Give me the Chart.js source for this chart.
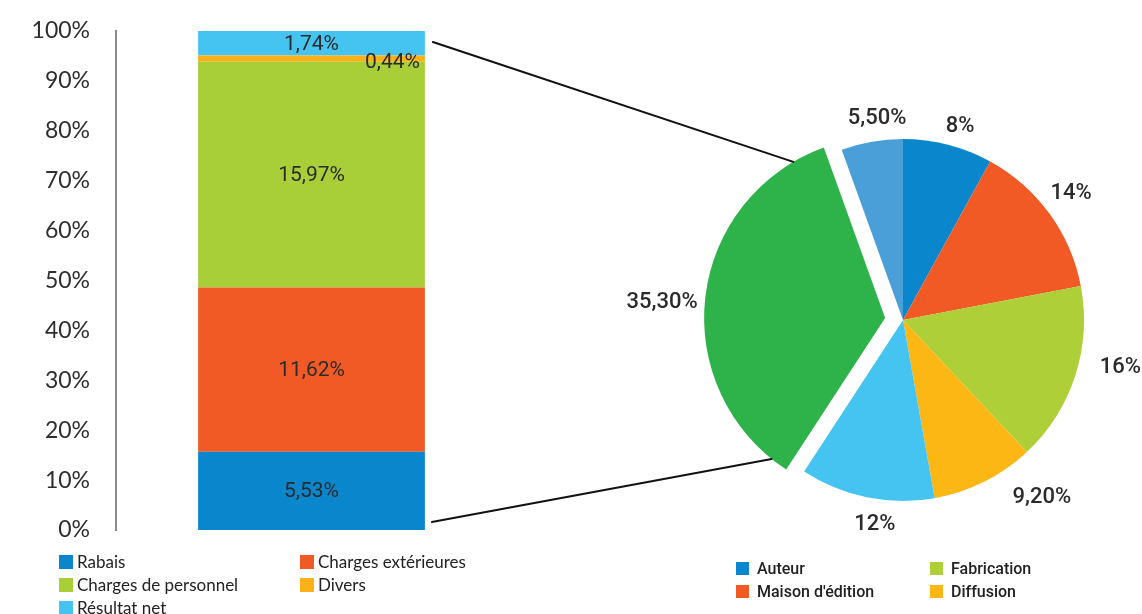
<!DOCTYPE html>
<html><head><meta charset="utf-8">
<script src="https://cdn.jsdelivr.net/npm/chart.js@4.4.0/dist/chart.umd.min.js"></script>
<style>
html,body{margin:0;padding:0;background:#fff;}
#wrap{position:relative;width:1142px;height:614px;overflow:hidden;background:#fff;}
canvas{position:absolute;}
#barC{left:0;top:0;}
#pieC{left:600px;top:90px;}
#lineC{left:0;top:0;pointer-events:none;}
.legend{position:absolute;display:grid;}
.item{display:flex;align-items:center;white-space:nowrap;}
.sw{width:14px;height:14px;flex:none;}
#barLeg{left:59px;top:550px;grid-template-columns:241px auto;grid-auto-rows:23px;font:17px Lato;color:#222;}
#barLeg .sw{margin-right:4px;}
#pieLeg{left:736px;top:557px;grid-template-rows:23px 23px;grid-auto-flow:column;grid-auto-columns:194px;font:500 16px Roboto;color:#222;}
#pieLeg .sw{width:13px;height:13px;margin-right:8px;}
</style></head>
<body>
<div id="wrap">
  <canvas id="barC" width="520" height="560"></canvas>
  <canvas id="pieC" width="540" height="460"></canvas>
  <canvas id="lineC" width="1142" height="614"></canvas>
  <div id="barLeg" class="legend"></div>
  <div id="pieLeg" class="legend"></div>
</div>
<script>
// ---- data ----
const barCategories = ['Rabais', 'Charges extérieures', 'Charges de personnel', 'Divers', 'Résultat net'];
const barValues = [5.53, 11.62, 15.97, 0.44, 1.74];
const barColors = ['#0a86cc', '#f15a24', '#a9cf38', '#fbb117', '#45c4f1'];

const yTickValues = [0, 10, 20, 30, 40, 50, 60, 70, 80, 90, 100];

const pieCategories = ['Auteur', "Maison d'édition", 'Fabrication', 'Diffusion', '', '', ''];
const pieValues = [8, 14, 16, 9.2, 12, 35.3, 5.5];
const pieColors = ['#0a86cc', '#f15a24', '#aecf38', '#fdb714', '#45c4f1', '#2db34a', '#4b9fd8'];

// ---- helpers ----
const fmt = v => (Number.isInteger(v) ? String(v) : v.toFixed(2).replace('.', ',')) + '%';
const barTotal = barValues.reduce((a, b) => a + b, 0);

const barLabelPlugin = {
  id: 'barLabels',
  afterDatasetsDraw(chart) {
    const ctx = chart.ctx;
    ctx.save();
    ctx.font = '21px Roboto';
    ctx.fillStyle = '#2b2b2b';
    ctx.textBaseline = 'middle';
    chart.data.datasets.forEach((ds, i) => {
      const el = chart.getDatasetMeta(i).data[0];
      const h = Math.abs(el.base - el.y);
      const cy = (el.y + el.base) / 2;
      const txt = fmt(ds.raw);
      if (h < 14) {
        ctx.textAlign = 'right';
        ctx.fillText(txt, el.x + el.width / 2 - 5, cy + 4);
      } else {
        ctx.textAlign = 'center';
        ctx.fillText(txt, el.x, cy + 1);
      }
    });
    ctx.restore();
  }
};

const explodePlugin = {
  id: 'explode',
  beforeDatasetDraw(chart, args, opts) {
    const ctx = chart.ctx;
    args.meta.data.forEach((arc, i) => {
      const d = i === opts.index ? opts.distance : 0;
      const mid = (arc.startAngle + arc.endAngle) / 2;
      ctx.save();
      ctx.translate(Math.cos(mid) * d, Math.sin(mid) * d);
      arc.draw(ctx);
      ctx.restore();
    });
    return false;
  }
};

const pieLabelPlugin = {
  id: 'pieLabels',
  afterDatasetsDraw(chart, args, opts) {
    const ctx = chart.ctx;
    const ex = chart.options.plugins.explode;
    ctx.save();
    ctx.font = '500 22px Roboto';
    ctx.fillStyle = '#2b2b2b';
    ctx.textAlign = 'center';
    ctx.textBaseline = 'middle';
    const meta = chart.getDatasetMeta(0);
    meta.data.forEach((arc, i) => {
      const v = chart.data.datasets[0].data[i];
      const txt = fmt(v);
      const mid = (arc.startAngle + arc.endAngle) / 2;
      const cx = Math.cos(mid), cy = Math.sin(mid);
      const d = (i === ex.index ? ex.distance : 0);
      const w = ctx.measureText(txt).width, h = 15;
      const r = arc.outerRadius + d + opts.pad;
      const n = opts.nudge[i] || [0, 0];
      const x = arc.x + cx * r + cx * w / 2 + n[0];
      const y = arc.y + cy * r + cy * h / 2 + n[1];
      ctx.fillText(txt, x, y);
    });
    ctx.restore();
  }
};

// ---- bar chart ----
const barChart = new Chart(document.getElementById('barC'), {
  type: 'bar',
  data: {
    labels: [''],
    datasets: barCategories.map((c, i) => ({
      label: c,
      data: [barValues[i] / barTotal * 100],
      raw: barValues[i],
      backgroundColor: barColors[i],
      borderWidth: 0,
      barPercentage: 1,
      categoryPercentage: 0.58
    }))
  },
  options: {
    responsive: false,
    animation: false,
    layout: { padding: { top: 31, right: 13, bottom: 30, left: 0 } },
    plugins: { legend: { display: false }, tooltip: { enabled: false } },
    scales: {
      x: { stacked: true, display: false },
      y: {
        stacked: true, min: 0, max: 100,
        afterBuildTicks: s => { s.ticks = yTickValues.map(v => ({ value: v })); },
        grid: { display: false, drawTicks: true, tickLength: 26 },
        border: { display: true, color: '#8c8c8c', width: 2 },
        ticks: { padding: 0, color: '#2e2e2e', font: { family: 'Lato', size: 23 }, callback: v => v + '%' },
        afterFit: s => { s.width = 116; }
      }
    }
  },
  plugins: [barLabelPlugin]
});

// ---- pie chart ----
const pieChart = new Chart(document.getElementById('pieC'), {
  type: 'pie',
  data: {
    labels: pieCategories,
    datasets: [{ data: pieValues, backgroundColor: pieColors, borderWidth: 0 }]
  },
  options: {
    responsive: false,
    animation: false,
    layout: { padding: { left: 122, top: 49, right: 56, bottom: 49 } },
    plugins: {
      legend: { display: false },
      tooltip: { enabled: false },
      explode: { index: 5, distance: 18 },
      pieLabels: { pad: 10, nudge: [[6, -1], [-3, -10], [16, -14], [40, 0], [14, 10], [2, 8], [12, -6]] }
    }
  },
  plugins: [explodePlugin, pieLabelPlugin]
});

// ---- connector lines ----
(function () {
  const barCv = document.getElementById('barC'), pieCv = document.getElementById('pieC');
  const bx = barCv.offsetLeft, by = barCv.offsetTop, px = pieCv.offsetLeft, py = pieCv.offsetTop;
  const topEl = barChart.getDatasetMeta(barCategories.length - 1).data[0];
  const botEl = barChart.getDatasetMeta(0).data[0];
  const right = bx + topEl.x + topEl.width / 2;
  const top = by + topEl.y, bottom = by + botEl.base;
  const ex = pieChart.options.plugins.explode;
  const arc = pieChart.getDatasetMeta(0).data[ex.index];
  const mid = (arc.startAngle + arc.endAngle) / 2;
  const cx = px + arc.x + Math.cos(mid) * ex.distance;
  const cy = py + arc.y + Math.sin(mid) * ex.distance;
  const span = arc.endAngle - arc.startAngle;
  const aTop = arc.endAngle - 0.084 * span, aBot = arc.startAngle + 0.045 * span;
  const R = arc.outerRadius;
  const ctx = document.getElementById('lineC').getContext('2d');
  ctx.strokeStyle = '#111';
  ctx.lineWidth = 2;
  ctx.lineCap = 'round';
  ctx.beginPath();
  ctx.moveTo(right + 8, top + 11);
  ctx.lineTo(cx + Math.cos(aTop) * R, cy + Math.sin(aTop) * R);
  ctx.moveTo(right + 7, bottom - 8);
  ctx.lineTo(cx + Math.cos(aBot) * R, cy + Math.sin(aBot) * R);
  ctx.stroke();
})();

// ---- HTML legends ----
function buildLegend(id, names, colors) {
  const box = document.getElementById(id);
  names.forEach((n, i) => {
    if (!n) return;
    const it = document.createElement('div');
    it.className = 'item';
    const sw = document.createElement('span');
    sw.className = 'sw';
    sw.style.background = colors[i];
    const t = document.createElement('span');
    t.textContent = n;
    it.appendChild(sw); it.appendChild(t);
    box.appendChild(it);
  });
}
buildLegend('barLeg', barChart.data.datasets.map(d => d.label), barColors);
buildLegend('pieLeg', pieChart.data.labels, pieColors);
</script>
</body></html>
